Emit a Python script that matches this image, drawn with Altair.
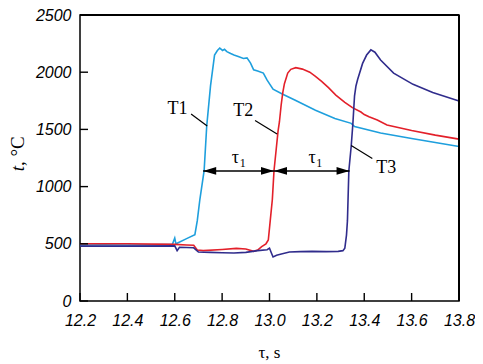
import altair as alt
import pandas as pd

# ---- data ----
t1_time = [12.2, 12.3, 12.4, 12.5, 12.59, 12.60, 12.605, 12.61, 12.65, 12.685, 12.695, 12.706,
           12.724, 12.735, 12.751, 12.768, 12.78, 12.79, 12.802, 12.81, 12.82, 12.836, 12.85,
           12.871, 12.89, 12.905, 12.92, 12.933, 12.95, 12.974, 12.99, 13.015, 13.056, 13.111,
           13.194, 13.276, 13.345, 13.359, 13.469, 13.6, 13.7, 13.8]
t1_temp = [490, 492, 490, 492, 495, 550, 500, 505, 545, 580, 700, 887,
           1139, 1530, 1880, 2150, 2190, 2210, 2190, 2200, 2180, 2163, 2150,
           2134, 2120, 2125, 2080, 2021, 2010, 1992, 1930, 1851, 1808, 1752,
           1667, 1596, 1553, 1525, 1468, 1420, 1385, 1350]

t2_time = [12.2, 12.4, 12.6, 12.65, 12.68, 12.695, 12.72, 12.8, 12.86, 12.9, 12.933, 12.95,
           12.967, 12.985, 12.995, 13.003, 13.012, 13.019, 13.028, 13.036, 13.042, 13.049,
           13.056, 13.063, 13.077, 13.09, 13.111, 13.139, 13.17, 13.194, 13.22, 13.249, 13.28,
           13.318, 13.35, 13.386, 13.40, 13.42, 13.455, 13.496, 13.6, 13.7, 13.8]
t2_temp = [500, 500, 495, 490, 488, 445, 440, 450, 460, 455, 434, 445,
           476, 500, 533, 700, 887, 1139, 1320, 1482, 1567, 1709,
           1822, 1900, 1992, 2025, 2040, 2027, 2000, 1964, 1920, 1865, 1800,
           1737, 1690, 1652, 1630, 1610, 1582, 1539, 1490, 1450, 1415]

t3_time = [12.2, 12.4, 12.6, 12.61, 12.62, 12.68, 12.70, 12.75, 12.8, 12.85, 12.9, 12.95,
           12.99, 13.0, 13.008, 13.015, 13.03, 13.05, 13.084, 13.13, 13.18, 13.24, 13.29,
           13.31, 13.318, 13.325, 13.329, 13.335, 13.345, 13.352, 13.359, 13.365, 13.372,
           13.393, 13.41, 13.428, 13.445, 13.469, 13.524, 13.606, 13.689, 13.8]
t3_temp = [480, 480, 482, 440, 470, 465, 428, 425, 422, 420, 425, 440,
           448, 462, 420, 385, 400, 410, 428, 432, 434, 432, 434,
           440, 462, 576, 700, 1139, 1355, 1550, 1794, 1880, 1936,
           2077, 2150, 2195, 2175, 2106, 1992, 1894, 1822, 1748]

series = ["T1", "T2", "T3"]
colors = ["#1E9FDD", "#E3202A", "#302C8C"]

x_ticks = [12.2, 12.4, 12.6, 12.8, 13.0, 13.2, 13.4, 13.6, 13.8]
y_ticks = [0, 500, 1000, 1500, 2000, 2500]

# annotation labels (series name, position)
lab_text = ["T1", "T2", "T3"]
lab_t = [12.612, 12.889, 13.493]
lab_v = [1680, 1663, 1160]
# leader lines
lead_t = [12.669, 12.939, 13.345]
lead_v = [1635, 1578, 1359]
lead_t2 = [12.737, 13.032, 13.434]
lead_v2 = [1530, 1459, 1245]
# tau arrows
arrow_v = 1137
arrow_t = [12.72, 13.019, 13.338]
tau_t = [12.856, 13.180]
tau_v = 1203
sub_t = [12.887, 13.210]
sub_v = 1169

# ---- build tables ----
rows = []
for name, ts, vs in zip(series, [t1_time, t2_time, t3_time], [t1_temp, t2_temp, t3_temp]):
    for i, (a, b) in enumerate(zip(ts, vs)):
        rows.append({"s": name, "t": a, "v": b, "o": i})
df = pd.DataFrame(rows)

W, H = 379, 286
xs = alt.Scale(domain=[12.2, 13.8], nice=False, zero=False)
ys = alt.Scale(domain=[0, 2500], nice=False)
X = lambda f="t": alt.X(f + ":Q", scale=xs)
Y = lambda f="v": alt.Y(f + ":Q", scale=ys)

one = pd.DataFrame({"a": [0]})

# frame drawn through the data scales (top = 2500, right = 13.8)
frame_top = alt.Chart(pd.DataFrame({"t": [12.2], "t2": [13.8], "v": [2500]})).mark_rule(
    color="black", strokeWidth=2).encode(x=X(), x2="t2:Q", y=Y())
frame_r = alt.Chart(pd.DataFrame({"t": [13.8], "v": [0], "v2": [2500]})).mark_rule(
    color="black", strokeWidth=2).encode(x=X(), y=Y(), y2="v2:Q")

lines = alt.Chart(df).mark_line(strokeWidth=1.6).encode(
    x=alt.X("t:Q", scale=xs, axis=alt.Axis(values=x_ticks, format=".1f", title="",
                                             labelPadding=11, labelFlush=False, labelOverlap=False)),
    y=alt.Y("v:Q", scale=ys, axis=alt.Axis(values=y_ticks, format="d", title="", labelPadding=9,
                                             labelFlush=False, labelOverlap=False)),
    color=alt.Color("s:N", scale=alt.Scale(domain=series, range=colors), legend=None),
    order="o:Q",
)

xt = alt.Chart(pd.DataFrame({"t": x_ticks})).mark_rule(color="black", strokeWidth=1.4).encode(
    x=X(), y=alt.value(H), y2=alt.value(H - 8))
yt = alt.Chart(pd.DataFrame({"v": y_ticks})).mark_rule(color="black", strokeWidth=1.4).encode(
    y=Y(), x=alt.value(0), x2=alt.value(8))

labs = alt.Chart(pd.DataFrame({"t": lab_t, "v": lab_v, "txt": lab_text})).mark_text(
    font="Liberation Serif", fontSize=18, color="black", align="center", baseline="middle"
).encode(x=X(), y=Y(), text="txt:N")

leads = alt.Chart(pd.DataFrame({"t": lead_t, "v": lead_v, "t2": lead_t2, "v2": lead_v2})).mark_rule(
    color="black", strokeWidth=1.2
).encode(x=X(), y=Y(), x2="t2:Q", y2="v2:Q")

shaft = alt.Chart(pd.DataFrame({"t": [arrow_t[0]], "t2": [arrow_t[-1]], "v": [arrow_v]})).mark_rule(
    color="black", strokeWidth=1.5
).encode(x=X(), x2="t2:Q", y=Y())

head_r = alt.Chart(pd.DataFrame({"t": arrow_t[1:], "v": [arrow_v] * 2})).mark_point(
    shape="M0,0L-1,-0.3L-1,0.3Z", size=676, filled=True, color="black", opacity=1, strokeWidth=0
).encode(x=X(), y=Y())
head_l = alt.Chart(pd.DataFrame({"t": arrow_t[:-1], "v": [arrow_v] * 2})).mark_point(
    shape="M0,0L1,-0.3L1,0.3Z", size=676, filled=True, color="black", opacity=1, strokeWidth=0
).encode(x=X(), y=Y())

tau = alt.Chart(pd.DataFrame({"t": tau_t, "v": [tau_v] * 2})).mark_text(
    font="Liberation Serif", fontSize=18, color="black", align="center", baseline="alphabetic", text="τ"
).encode(x=X(), y=Y())
sub = alt.Chart(pd.DataFrame({"t": sub_t, "v": [sub_v] * 2})).mark_text(
    font="Liberation Serif", fontSize=12, color="black", align="center", baseline="alphabetic", text="1"
).encode(x=X(), y=Y())

ytitle_t = alt.Chart(one).mark_text(
    font="Liberation Serif", fontSize=19, fontStyle="italic", color="black", angle=270,
    align="right", baseline="alphabetic", text="t"
).encode(x=alt.value(-56), y=alt.value(151))
ytitle_rest = alt.Chart(one).mark_text(
    font="Liberation Serif", fontSize=19, color="black", angle=270,
    align="left", baseline="alphabetic", text=", °C"
).encode(x=alt.value(-56), y=alt.value(151))
xtitle = alt.Chart(one).mark_text(
    font="Liberation Serif", fontSize=17, color="black", align="center", baseline="alphabetic",
    text="τ, s"
).encode(x=alt.value(W / 2), y=alt.value(343))

chart = alt.layer(
    lines, frame_top, frame_r, xt, yt, leads, labs, shaft, head_r, head_l,
    tau, sub, ytitle_t, ytitle_rest, xtitle
).properties(
    width=W, height=H,
    padding={"left": 72, "top": 7, "right": 16, "bottom": 65},
    autosize=alt.AutoSizeParams(type="none"),
).configure_view(
    stroke="black", strokeWidth=1.5
).configure_axis(
    domain=False, ticks=False, tickSize=0, grid=False,
    labelFont="Liberation Sans", labelFontStyle="italic", labelFontSize=16, labelColor="black",
    titleColor="black",
)

chart.save("out.html", embed_options={"renderer": "svg", "actions": False})
